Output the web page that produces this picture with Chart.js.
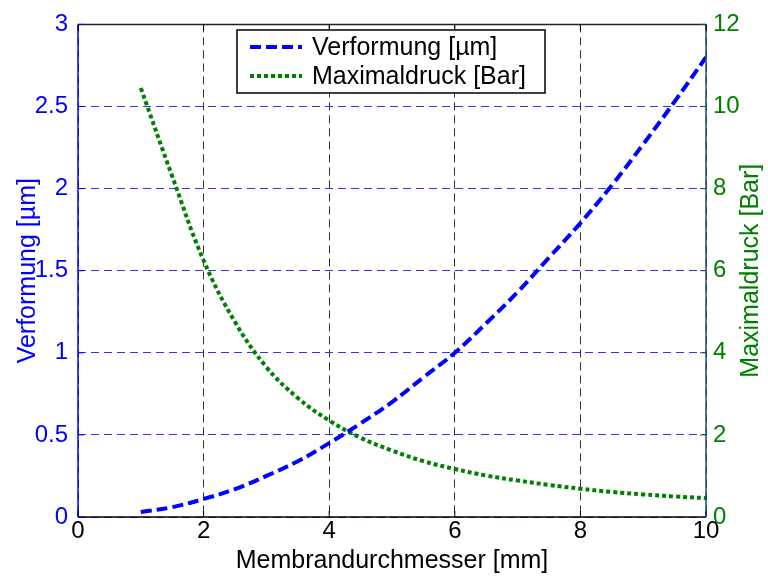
<!DOCTYPE html>
<html>
<head>
<meta charset="utf-8">
<script src="https://cdn.jsdelivr.net/npm/chart.js@4"></script>
<style>
  html, body { margin: 0; padding: 0; background: #fff; }
  #wrap { width: 768px; height: 576px; }
</style>
</head>
<body>
<div id="wrap"><canvas id="chart" width="768" height="576"></canvas></div>
<script>
// Membrandurchmesser [mm]
const diameters = [1, 1.5, 2, 2.5, 3, 3.5, 4, 4.5, 5, 5.5, 6, 6.5, 7, 7.5, 8, 8.5, 9, 9.5, 10];
// Verformung [µm] (left axis)
const deformation = [0.03, 0.06, 0.11, 0.17, 0.25, 0.34, 0.45, 0.57, 0.70, 0.85, 1.00, 1.18, 1.37, 1.58, 1.79, 2.02, 2.27, 2.53, 2.80];
// Maximaldruck [Bar] (right axis)
const maxPressure = [10.45, 8.3, 6.25, 4.75, 3.65, 2.9, 2.35, 1.93, 1.62, 1.36, 1.17, 1.01, 0.89, 0.78, 0.69, 0.61, 0.55, 0.50, 0.46];

const FONT = 'Liberation Sans, Arial, Helvetica, sans-serif';
const BLUE = '#0000ff';
const GREEN = '#008000';
const TEAL = '#1b4f6b';

const toPoints = (xs, ys) => xs.map((x, i) => ({ x, y: ys[i] }));

// box legend inside the plot, like the original
const boxLegend = {
  id: 'boxLegend',
  afterDraw(chart) {
    const ctx = chart.ctx;
    const x0 = 237, y0 = 30, w = 308, h = 63;
    ctx.save();
    ctx.fillStyle = '#fff';
    ctx.fillRect(x0, y0, w, h);
    ctx.strokeStyle = '#000';
    ctx.lineWidth = 1.5;
    ctx.strokeRect(x0, y0, w, h);
    ctx.font = '25px ' + FONT;
    ctx.textBaseline = 'middle';
    ctx.fillStyle = '#000';
    chart.data.datasets.forEach((ds, i) => {
      const yy = y0 + 17 + i * 29;
      ctx.beginPath();
      ctx.setLineDash(ds.borderDash);
      ctx.strokeStyle = ds.borderColor;
      ctx.lineWidth = ds.borderWidth;
      ctx.moveTo(x0 + 13, yy);
      ctx.lineTo(x0 + 65, yy);
      ctx.stroke();
      ctx.setLineDash([]);
      ctx.fillText(ds.label, x0 + 75, yy + 1);
    });
    ctx.restore();
  }
};

// axis lines, inward tick marks, right title (reads bottom to top)
const frame = {
  id: 'frame',
  afterDatasetsDraw(chart) {
    const { ctx, chartArea: a, scales } = chart;
    ctx.save();
    ctx.lineWidth = 1.5;
    ctx.strokeStyle = '#222';
    ctx.beginPath();
    ctx.moveTo(a.left, a.top); ctx.lineTo(a.right, a.top);
    ctx.stroke();
    ctx.strokeStyle = '#000';
    ctx.beginPath();
    ctx.moveTo(a.left, a.bottom); ctx.lineTo(a.right, a.bottom);
    ctx.stroke();
    ctx.strokeStyle = BLUE;
    ctx.beginPath();
    ctx.moveTo(a.left, a.top); ctx.lineTo(a.left, a.bottom);
    ctx.stroke();
    ctx.strokeStyle = TEAL;
    ctx.beginPath();
    ctx.moveTo(a.right, a.top); ctx.lineTo(a.right, a.bottom);
    ctx.stroke();

    ctx.lineWidth = 1;
    ctx.strokeStyle = '#000';
    scales.x.ticks.forEach(t => {
      const px = scales.x.getPixelForValue(t.value);
      ctx.beginPath();
      ctx.moveTo(px, a.bottom); ctx.lineTo(px, a.bottom - 6);
      ctx.moveTo(px, a.top); ctx.lineTo(px, a.top + 6);
      ctx.stroke();
    });
    ctx.strokeStyle = BLUE;
    scales.y.ticks.forEach(t => {
      const py = scales.y.getPixelForValue(t.value);
      ctx.beginPath();
      ctx.moveTo(a.left, py); ctx.lineTo(a.left + 6, py);
      ctx.stroke();
    });
    ctx.strokeStyle = TEAL;
    scales.y1.ticks.forEach(t => {
      const py = scales.y1.getPixelForValue(t.value);
      ctx.beginPath();
      ctx.moveTo(a.right, py); ctx.lineTo(a.right - 6, py);
      ctx.stroke();
    });

    ctx.translate(751, (a.top + a.bottom) / 2);
    ctx.rotate(-Math.PI / 2);
    ctx.font = '25px ' + FONT;
    ctx.fillStyle = GREEN;
    ctx.textAlign = 'center';
    ctx.textBaseline = 'middle';
    ctx.fillText('Maximaldruck [Bar]', 0, 0);
    ctx.restore();
  }
};

const plain = v => String(v);

new Chart(document.getElementById('chart').getContext('2d'), {
  type: 'line',
  data: {
    datasets: [
      {
        label: 'Verformung [µm]',
        data: toPoints(diameters, deformation),
        yAxisID: 'y',
        borderColor: BLUE,
        borderWidth: 4,
        borderDash: [11, 5],
        pointRadius: 0,
        tension: 0.4,
        fill: false
      },
      {
        label: 'Maximaldruck [Bar]',
        data: toPoints(diameters, maxPressure),
        yAxisID: 'y1',
        borderColor: GREEN,
        borderWidth: 4,
        borderDash: [4, 3],
        pointRadius: 0,
        tension: 0.4,
        fill: false
      }
    ]
  },
  options: {
    responsive: false,
    animation: false,
    layout: { padding: { top: 20, left: 0, right: 0, bottom: 0 } },
    plugins: {
      legend: { display: false },
      tooltip: { enabled: false }
    },
    scales: {
      x: {
        type: 'linear',
        min: 0,
        max: 10,
        ticks: { stepSize: 2, color: '#000', font: { family: FONT, size: 24 }, padding: 0, callback: plain },
        grid: { color: '#333', drawTicks: false, lineWidth: 1 },
        border: { display: false, dash: [8, 5] },
        title: { display: true, text: 'Membrandurchmesser [mm]', color: '#000', font: { family: FONT, size: 25 }, padding: { top: 1, bottom: 0 } },
        afterFit: s => { s.height = 59; }
      },
      y: {
        type: 'linear',
        position: 'left',
        min: 0,
        max: 3,
        ticks: { stepSize: 0.5, color: BLUE, font: { family: FONT, size: 24 }, padding: 10, callback: plain },
        grid: { color: '#3333ff', drawTicks: false, lineWidth: 1 },
        border: { display: false, dash: [8, 5] },
        title: { display: true, text: 'Verformung [µm]', color: BLUE, font: { family: FONT, size: 25 }, padding: { top: 13, bottom: 0 } },
        afterFit: s => { s.width = 78; }
      },
      y1: {
        type: 'linear',
        position: 'right',
        min: 0,
        max: 12,
        ticks: { stepSize: 2, color: GREEN, font: { family: FONT, size: 24 }, padding: 7, callback: plain },
        grid: { display: false, drawTicks: false },
        border: { display: false },
        afterFit: s => { s.width = 62; }
      }
    }
  },
  plugins: [frame, boxLegend]
});
</script>
</body>
</html>
